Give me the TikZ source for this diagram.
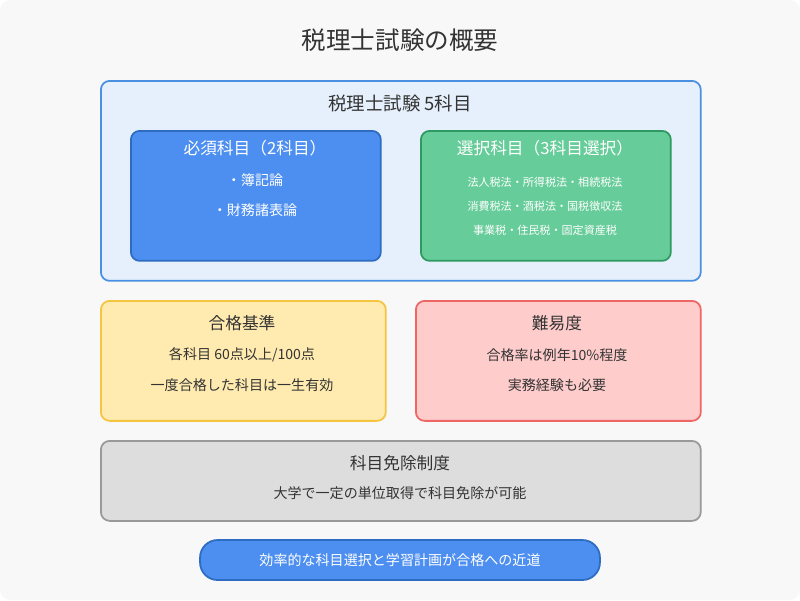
\documentclass[tikz,border=0pt]{standalone}
\usepackage{fontspec}
\setmainfont{Noto Sans CJK JP}
\usetikzlibrary{positioning}
\definecolor{bgcol}{HTML}{F8F8F8}
\definecolor{outerfill}{HTML}{E6F0FC}
\definecolor{blueline}{HTML}{4A90E2}
\definecolor{bluefill}{HTML}{4D8FF0}
\definecolor{bluedark}{HTML}{2D6CC0}
\definecolor{greenfill}{HTML}{66CC99}
\definecolor{greendark}{HTML}{2E9960}
\definecolor{yellowfill}{HTML}{FFEBB0}
\definecolor{yellowline}{HTML}{F5C542}
\definecolor{redfill}{HTML}{FFCCCC}
\definecolor{redline}{HTML}{EE6666}
\definecolor{grayfill}{HTML}{DDDDDD}
\definecolor{grayline}{HTML}{999999}
\definecolor{textcol}{HTML}{333333}

\begin{document}
\begin{tikzpicture}[
    x=0.02cm, y=-0.02cm,
    panel/.style={rectangle, rounded corners=5pt, line width=1pt, anchor=north west, inner sep=0pt},
    heading/.style={text=textcol, font=\fontsize{9.5}{11}\selectfont},
    body/.style={text=textcol, font=\fontsize{8}{10}\selectfont},
    small/.style={text=white, font=\fontsize{6.3}{8}\selectfont}
]
    \fill[bgcol, rounded corners=6pt] (0,0) rectangle (800,600);
    \useasboundingbox (0,0) rectangle (800,600);

    \node[text=textcol, font=\fontsize{14}{16}\selectfont] (title) at (400,40) {税理士試験の概要};

    % exam subjects
    \node[panel, draw=blueline, fill=outerfill, minimum width=12cm, minimum height=4cm] (exam) at (100,80) {};
    \node[heading, font=\fontsize{10.5}{12}\selectfont] (examtitle) at (400,103) {税理士試験 5科目};
    \node[panel, draw=bluedark, fill=bluefill, minimum width=5cm, minimum height=2.6cm] (required) at (130,130) {};
    \node[heading, text=white] (reqtitle) at (255,148) {必須科目（2科目）};
    \node[body, text=white] (boki) at (255,180) {・簿記論};
    \node[body, text=white] (zaimu) at (255,210) {・財務諸表論};
    \node[panel, draw=greendark, fill=greenfill, minimum width=5cm, minimum height=2.6cm] (elective) at (420,130) {};
    \node[heading, text=white] (eletitle) at (545,148) {選択科目（3科目選択）};
    \node[small] (kokuzei) at (545,182) {法人税法・所得税法・相続税法};
    \node[small] (shohi) at (545,206) {消費税法・酒税法・国税徴収法};
    \node[small] (chihou) at (545,230) {事業税・住民税・固定資産税};

    % criteria and difficulty
    \node[panel, draw=yellowline, fill=yellowfill, minimum width=5.7cm, minimum height=2.4cm] (criteria) at (100,300) {};
    \node[heading] (crittitle) at (242,323) {合格基準};
    \node[body] (score) at (242,355) {各科目 60点以上/100点};
    \node[body] (valid) at (242,385) {一度合格した科目は一生有効};
    \node[panel, draw=redline, fill=redfill, minimum width=5.7cm, minimum height=2.4cm] (difficulty) at (415,300) {};
    \node[heading] (difftitle) at (557,323) {難易度};
    \node[body] (rate) at (557,355) {合格率は例年10\%程度};
    \node[body] (practice) at (557,385) {実務経験も必要};

    % exemption
    \node[panel, draw=grayline, fill=grayfill, minimum width=12cm, minimum height=1.6cm] (exemption) at (100,440) {};
    \node[heading] (exemtitle) at (400,463) {科目免除制度};
    \node[body] (univ) at (400,493) {大学で一定の単位取得で科目免除が可能};

    \node[rectangle, rounded corners=10pt, draw=bluedark, line width=1pt, fill=bluefill, text=white,
          minimum width=8cm, minimum height=0.8cm, font=\fontsize{8}{10}\selectfont] (tip) at (400,560) {効率的な科目選択と学習計画が合格への近道};
\end{tikzpicture}
\end{document}
